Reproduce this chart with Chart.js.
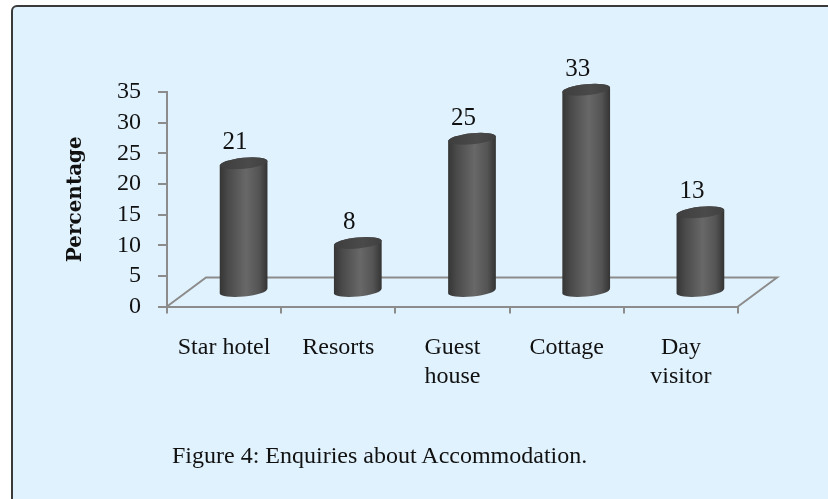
<!DOCTYPE html>
<html>
<head>
<meta charset="utf-8">
<script src="https://cdn.jsdelivr.net/npm/chart.js@4.4.1/dist/chart.umd.min.js"></script>
<style>
  html, body { margin: 0; padding: 0; overflow: hidden; background: #fff; }
  #frame {
    position: absolute; left: 11px; top: 5px; width: 900px; height: 600px;
    border: 2px solid #3a3a3a; border-radius: 6px; background: #e0f2fd;
  }
  #wrap { position: absolute; left: 0; top: 0; width: 828px; height: 499px; }
  #caption {
    position: absolute; left: 172px; top: 441px; margin: 0;
    font: 24px/28px "Liberation Serif", serif; color: #111; white-space: nowrap;
  }
</style>
</head>
<body>
<div id="frame"></div>
<div id="wrap"><canvas id="chart" width="828" height="499"></canvas></div>
<p id="caption">Figure 4: Enquiries about Accommodation.</p>
<script>
// Data
const categories = ['Star hotel', 'Resorts', ['Guest', 'house'], 'Cottage', ['Day', 'visitor']];
const percentages = [21, 8, 25, 33, 13];
const yTicks = [0, 5, 10, 15, 20, 25, 30, 35];

const axisGray = '#8c8c8c';
const serif = '"Liberation Serif", "Times New Roman", serif';

// 3D floor depth (back wall offset) and cylinder look
const DX = 39, DY = -29;

const cylinders = {
  id: 'cylinders',
  beforeDatasetsDraw(chart) {
    const { ctx, chartArea } = chart;
    const y0 = chart.scales.y.getPixelForValue(0);
    ctx.save();
    ctx.strokeStyle = axisGray;
    ctx.lineWidth = 2;
    ctx.beginPath();
    ctx.moveTo(chartArea.left, y0);
    ctx.lineTo(chartArea.left + DX, y0 + DY);
    ctx.lineTo(chartArea.right + DX, y0 + DY);
    ctx.lineTo(chartArea.right, y0);
    ctx.stroke();
    ctx.restore();
  },
  afterDatasetsDraw(chart) {
    const { ctx } = chart;
    const meta = chart.getDatasetMeta(0);
    const data = chart.data.datasets[0].data;
    ctx.save();
    meta.data.forEach((bar, i) => {
      const cx = bar.x + DX / 2;
      const top = bar.y + DY / 2;
      const bot = bar.base + DY / 2;
      const rx = bar.width / 2, ry = 5.5, rot = -0.1;

      const g = ctx.createLinearGradient(cx - rx, 0, cx + rx, 0);
      g.addColorStop(0, '#353535');
      g.addColorStop(0.18, '#4a4a4a');
      g.addColorStop(0.55, '#686868');
      g.addColorStop(0.82, '#545454');
      g.addColorStop(1, '#333333');

      ctx.beginPath();
      ctx.ellipse(cx, bot, rx, ry, rot, 0, Math.PI);
      ctx.ellipse(cx, top, rx, ry, rot, Math.PI, 2 * Math.PI);
      ctx.closePath();
      ctx.fillStyle = g;
      ctx.fill();

      const tg = ctx.createLinearGradient(cx - rx, 0, cx + rx, 0);
      tg.addColorStop(0, '#3e3e3e');
      tg.addColorStop(0.6, '#4a4a4a');
      tg.addColorStop(1, '#404040');
      ctx.beginPath();
      ctx.ellipse(cx, top, rx, ry, rot, 0, 2 * Math.PI);
      ctx.fillStyle = tg;
      ctx.fill();

      // value label
      ctx.fillStyle = '#111';
      ctx.font = '25px ' + serif;
      ctx.textAlign = 'center';
      ctx.textBaseline = 'middle';
      ctx.fillText(String(data[i]), bar.x + 11, bar.y - 35);
    });
    ctx.restore();
  }
};

new Chart(document.getElementById('chart'), {
  type: 'bar',
  data: {
    labels: categories,
    datasets: [{
      data: percentages,
      backgroundColor: 'rgba(0,0,0,0)',
      borderWidth: 0,
      barPercentage: 0.42,
      categoryPercentage: 1
    }]
  },
  options: {
    responsive: false,
    animation: false,
    layout: { padding: { left: 64, right: 90, top: 92, bottom: 92.5 } },
    plugins: { legend: { display: false }, tooltip: { enabled: false } },
    scales: {
      x: {
        afterFit: s => { s.height = 100; },
        border: { color: axisGray, width: 2 },
        grid: { drawOnChartArea: false, drawTicks: true, tickLength: 7, color: axisGray, lineWidth: 2 },
        ticks: { color: '#111', font: { family: serif, size: 24 }, padding: 20, maxRotation: 0, autoSkip: false }
      },
      y: {
        min: 0,
        max: yTicks[yTicks.length - 1],
        afterFit: s => { s.width = 103; },
        afterBuildTicks: s => { s.ticks = yTicks.map(v => ({ value: v })); },
        border: { color: axisGray, width: 2 },
        grid: { drawOnChartArea: false, drawTicks: true, tickLength: 9, color: axisGray, lineWidth: 2 },
        ticks: { color: '#111', font: { family: serif, size: 24 }, padding: 17, autoSkip: false },
        title: {
          display: true,
          text: 'Percentage',
          color: '#111',
          padding: 0,
          font: { family: '"DejaVu Serif", serif', size: 20, weight: 'bold' }
        }
      }
    }
  },
  plugins: [cylinders]
});
</script>
</body>
</html>
